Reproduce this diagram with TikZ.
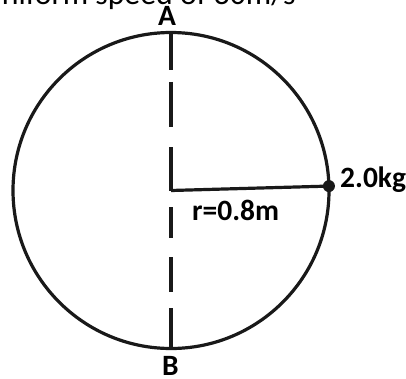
\documentclass[tikz,border=0pt]{standalone}
\usepackage{fontspec}
\setmainfont{Carlito}
\usetikzlibrary{calc}
\begin{document}
\begin{tikzpicture}[x=1pt,y=1pt,
  stroke/.style={line width=3.2pt, black!90},
  lbl/.style={inner sep=0pt, font=\bfseries\fontsize{29.5}{32}\selectfont},
  toptext/.style={inner sep=0pt, font=\fontsize{31.8}{34}\selectfont}]
\useasboundingbox (0,0) rectangle (406,378);
\clip (0,0) rectangle (406,378);
\fill[white] (0,0) rectangle (406,378);
% center
\coordinate (O) at (171,187.5);
\def\R{158}
\draw[stroke] (O) circle (\R);
% mass point on the circle
\coordinate (M) at ($(O)+(1.6:\R)$);
\draw[stroke] (O) -- (M);
\fill[black!90] (M) circle (6);
% vertical dashed diameter (hand-drawn dashes)
\coordinate (Atop) at (171,346);
\coordinate (Bbot) at (171,30);
\draw[stroke] (Atop) -- (171,308);
\draw[stroke] (171,296) -- (171,251);
\draw[stroke] (171,231) -- (O);
\draw[stroke] (171,171) -- (171,140);
\draw[stroke] (171,121) -- (171,86);
\draw[stroke] (171,70) -- (Bbot);
% labels
\node[lbl, anchor=base] (A) at (167,352) {A};
\node[lbl, anchor=base] (B) at (170.5,3) {B};
\node[lbl, anchor=base west] (kg) at (340,191) {2.0kg};
\node[lbl, anchor=base west] (r) at (192,158) {r=0.8m};
\node[toptext, anchor=base west] (top) at (-15,373) {uniform speed of 30m/s};
\end{tikzpicture}
\end{document}
